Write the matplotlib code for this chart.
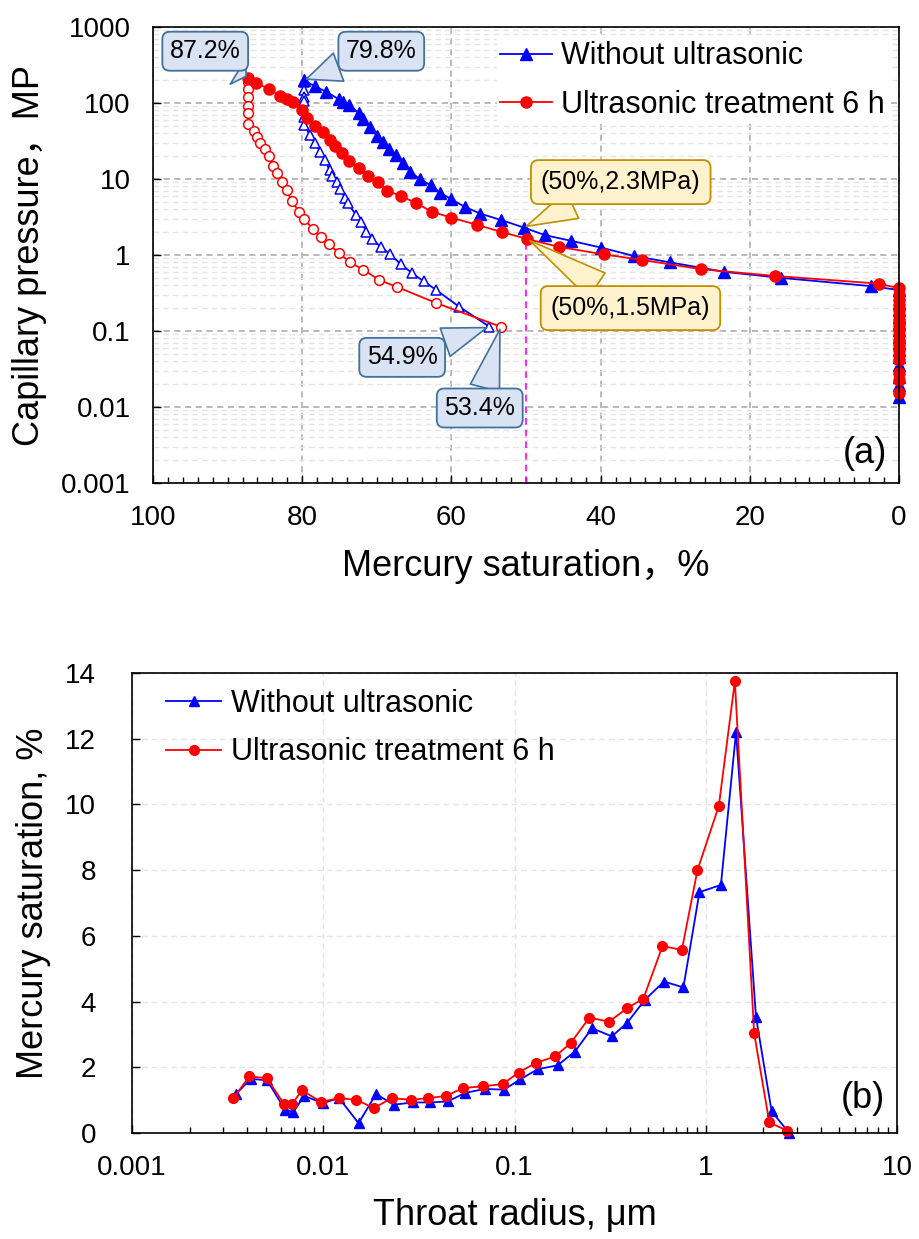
import numpy as np
import matplotlib
matplotlib.use("Agg")
import matplotlib.pyplot as plt
from matplotlib.lines import Line2D
from matplotlib.ticker import FixedLocator, FuncFormatter, LogLocator, NullFormatter, MultipleLocator

plt.rcParams["font.family"] = ["Liberation Sans", "Noto Sans CJK SC", "DejaVu Sans"]

# ---- (a) capillary pressure curves ----
# without ultrasonic, intrusion (filled triangles)
sat_in_raw = [79.8, 78.3, 76.8, 75.1, 74.5, 73.7, 72.4, 71.8, 70.9, 70.0, 69.2, 68.4, 67.4,
              66.5, 65.5, 64.2, 62.8, 61.5, 60.0, 58.2, 56.1, 53.4, 50.3, 47.5, 44.0, 39.9,
              35.5, 30.7, 23.4, 15.8, 3.8,
              0, 0, 0, 0, 0, 0, 0, 0, 0, 0, 0, 0, 0, 0]
pc_in_raw = [200, 166, 141, 112, 104, 94, 73, 61, 49, 37, 31, 25, 20.7,
             16, 12.5, 9.9, 8.3, 6.6, 5.4, 4.3, 3.5, 2.9, 2.3, 1.83, 1.54, 1.25,
             0.97, 0.80, 0.60, 0.50, 0.39,
             0.346, 0.231, 0.189, 0.154, 0.126, 0.103, 0.084, 0.069, 0.056, 0.046,
             0.0357, 0.025, 0.0195, 0.0134]
# ultrasonic 6 h, intrusion (filled circles)
sat_in_us = [87.2, 86.2, 84.5, 83.0, 82.1, 81.3, 80.0, 79.3, 78.3, 77.2, 76.3, 75.6, 74.7,
             73.7, 72.4, 71.2, 69.9, 68.6, 66.8, 64.7, 62.6, 60.0, 56.6, 53.2, 49.8, 45.6,
             39.6, 34.4, 26.5, 16.6, 2.7,
             0, 0, 0, 0, 0, 0, 0, 0, 0, 0, 0, 0, 0, 0, 0, 0, 0, 0]
pc_in_us = [215, 185, 153, 124, 112, 104, 81, 63, 50, 42, 33, 27, 22,
            17, 14, 11, 9.1, 7.0, 6.0, 4.8, 3.7, 3.1, 2.5, 2.0, 1.62, 1.28,
            1.02, 0.86, 0.65, 0.53, 0.42,
            0.365, 0.298, 0.256, 0.22, 0.189, 0.163, 0.14, 0.12, 0.103, 0.0886,
            0.0762, 0.0655, 0.0562, 0.0483, 0.0415, 0.0277, 0.0226, 0.0151]
# withdrawal (open markers)
sat_out_raw = [79.8, 79.8, 79.8, 79.8, 79.7, 79.7, 79.0, 78.3, 77.6, 77.0, 76.3, 76.0, 75.4,
               75.0, 74.2, 73.9, 72.8, 72.1, 71.4, 70.6, 69.5, 68.2, 66.8, 65.3, 63.7, 62.1,
               59.0, 54.9]
pc_out_raw = [190, 148, 121, 105, 66, 51, 38, 30, 23, 18, 13, 10.8, 9.2,
              7.3, 5.6, 4.8, 3.4, 2.75, 2.03, 1.61, 1.29, 1.02, 0.76, 0.58, 0.45, 0.35,
              0.21, 0.114]
sat_out_us = [87.3, 87.3, 87.3, 87.3, 87.3, 87.2, 86.5, 86.1, 85.6, 85.0, 84.5, 83.9, 83.4,
              82.7, 82.1, 81.4, 80.4, 79.7, 78.6, 77.5, 76.4, 75.1, 73.6, 71.8, 69.7, 67.3,
              62.1, 53.4]
pc_out_us = [190, 151, 121, 91, 73, 53, 43, 36, 30, 25, 20, 15, 12,
             9.2, 7.2, 5.1, 3.7, 3.0, 2.18, 1.74, 1.38, 1.07, 0.80, 0.64, 0.47, 0.38,
             0.235, 0.114]

# ---- (b) throat radius distribution ----
r_raw = [0.0035, 0.00419, 0.0051, 0.0063, 0.00698, 0.00794, 0.00994, 0.0121, 0.0153, 0.0189,
         0.0233, 0.0294, 0.0362, 0.0448, 0.0552, 0.0697, 0.0883, 0.107, 0.132, 0.168,
         0.207, 0.254, 0.323, 0.389, 0.48, 0.605, 0.764, 0.927, 1.2, 1.44, 1.83, 2.21, 2.73]
s_raw = [1.19, 1.65, 1.60, 0.71, 0.64, 1.13, 0.91, 1.06, 0.30, 1.19,
         0.86, 0.93, 0.93, 0.96, 1.22, 1.34, 1.32, 1.63, 1.94, 2.06,
         2.48, 3.19, 2.94, 3.36, 4.05, 4.61, 4.43, 7.33, 7.55, 12.2, 3.54, 0.66, 0.0]
r_us = [0.00339, 0.0041, 0.00506, 0.00623, 0.0069, 0.00772, 0.00973, 0.0121, 0.0149, 0.0184,
        0.0228, 0.0288, 0.0355, 0.0439, 0.054, 0.0682, 0.0868, 0.105, 0.129, 0.163,
        0.197, 0.246, 0.313, 0.388, 0.472, 0.594, 0.75, 0.905, 1.17, 1.42, 1.79, 2.15, 2.67]
s_us = [1.06, 1.72, 1.67, 0.89, 0.89, 1.30, 0.95, 1.06, 1.01, 0.76,
        1.06, 1.01, 1.06, 1.13, 1.37, 1.42, 1.49, 1.84, 2.13, 2.33,
        2.74, 3.51, 3.39, 3.80, 4.09, 5.69, 5.57, 8.0, 9.95, 13.75, 3.04, 0.32, 0.07]

labels = ["Without ultrasonic", "Ultrasonic treatment 6 h"]
BLUE, RED = "#0000ff", "#ff0000"
TICK_FS, LABEL_FS, LEG_FS, NOTE_FS = 20, 26, 22, 18

W, H = 919, 1239
fig = plt.figure(figsize=(W / 100, H / 100), dpi=100)
ax1 = fig.add_axes([153 / W, 1 - 483 / H, (899 - 153) / W, (483 - 27) / H])
ax2 = fig.add_axes([132 / W, 1 - 1133 / H, (897 - 132) / W, (1133 - 673) / H])

fmt_g = FuncFormatter(lambda v, p: f"{v:g}")

# ---------- panel (a) ----------
ax1.set_yscale("log")
ax1.set_xlim(100, 0)
ax1.set_ylim(0.001, 1000)
ax1.yaxis.set_major_locator(FixedLocator([0.001, 0.01, 0.1, 1, 10, 100, 1000]))
ax1.yaxis.set_major_formatter(fmt_g)
ax1.yaxis.set_minor_locator(LogLocator(base=10, subs=np.arange(2, 10)))
ax1.yaxis.set_minor_formatter(NullFormatter())
ax1.xaxis.set_major_locator(MultipleLocator(20))
ax1.xaxis.set_minor_locator(MultipleLocator(2))
ax1.xaxis.set_major_formatter(fmt_g)

ax1.grid(which="major", axis="both", ls=(0, (4, 3)), color="#a6a6a6", lw=1.1, zorder=0)
ax1.grid(which="minor", axis="y", ls=(0, (4, 3)), color="#e4e4e4", lw=1.0, zorder=0)

ax1.plot(sat_out_raw, pc_out_raw, color=BLUE, lw=1.3, marker="^", ms=7, mfc="white",
         mec=BLUE, mew=1.1, zorder=3)
ax1.plot(sat_out_us, pc_out_us, color=RED, lw=1.3, marker="o", ms=7, mfc="white",
         mec=RED, mew=1.1, zorder=3)
ax1.plot(sat_in_raw, pc_in_raw, color=BLUE, lw=1.3, marker="^", ms=8, mfc=BLUE, mec=BLUE,
         zorder=4, clip_on=False)
ax1.plot(sat_in_us, pc_in_us, color=RED, lw=1.3, marker="o", ms=8, mfc=RED, mec=RED,
         zorder=4, clip_on=False)

# 50 % guide line
ax1.plot([50, 50], [0.001, pc_in_us[sat_in_us.index(49.8)]], color="#ff00ff",
         ls=(0, (4, 3)), lw=1.2, zorder=2)

blue_box = dict(boxstyle="round,pad=0.3,rounding_size=0.3", fc="#dae3f3", ec="#41719c", lw=1.3)
yel_box = dict(boxstyle="round,pad=0.4,rounding_size=0.3", fc="#fff2cc", ec="#bf9000", lw=1.3)


def callout(ax, text, xy, xytext, box):
    ax.annotate(text, xy=xy, xytext=xytext, textcoords="data", fontsize=NOTE_FS,
                ha="center", va="center", bbox=box, zorder=6,
                arrowprops=dict(arrowstyle="wedge,tail_width=1.2", fc=box["fc"],
                                ec=box["ec"], lw=1.2, shrinkA=0, shrinkB=2))


callout(ax1, "87.2%", (87.2, 215), (93.0, 480), blue_box)
callout(ax1, "79.8%", (79.8, 200), (69.4, 480), blue_box)
callout(ax1, "54.9%", (54.9, 0.114), (66.6, 0.045), blue_box)
callout(ax1, "53.4%", (53.4, 0.114), (56.2, 0.0097), blue_box)
callout(ax1, "(50%,2.3MPa)", (50.3, 2.3), (37.3, 9.1), yel_box)
callout(ax1, "(50%,1.5MPa)", (49.8, 1.62), (36.0, 0.2), yel_box)

ax1.text(0.955, 0.065, "(a)", transform=ax1.transAxes, fontsize=LABEL_FS,
         ha="center", va="center")

ax1.set_xlabel("Mercury saturation，%", fontsize=LABEL_FS, labelpad=13)
ax1.set_ylabel("Capillary pressure，MP", fontsize=LABEL_FS, labelpad=10)

h1 = [Line2D([], [], color=BLUE, lw=1.3, marker="^", ms=8),
      Line2D([], [], color=RED, lw=1.3, marker="o", ms=8)]
leg1 = ax1.legend(h1, labels, loc="upper right", bbox_to_anchor=(0.985, 0.975),
                  fontsize=LEG_FS, frameon=True, facecolor="white", edgecolor="none",
                  framealpha=1, fancybox=False, borderpad=0.1, borderaxespad=0,
                  handlelength=1.7, handletextpad=0.3, labelspacing=0.6)
leg1.set_zorder(5)

# ---------- panel (b) ----------
ax2.set_xscale("log")
ax2.set_xlim(0.001, 10)
ax2.set_ylim(0, 14)
ax2.xaxis.set_major_locator(FixedLocator([0.001, 0.01, 0.1, 1, 10]))
ax2.xaxis.set_major_formatter(fmt_g)
ax2.xaxis.set_minor_locator(LogLocator(base=10, subs=np.arange(2, 10)))
ax2.xaxis.set_minor_formatter(NullFormatter())
ax2.yaxis.set_major_locator(MultipleLocator(2))
ax2.grid(which="major", ls=(0, (4, 3)), color="#e4e4e4", lw=1.0, zorder=0)

ax2.plot(r_raw, s_raw, color=BLUE, lw=1.3, marker="^", ms=6.5, mfc=BLUE, mec=BLUE,
         zorder=3, clip_on=False)
ax2.plot(r_us, s_us, color=RED, lw=1.3, marker="o", ms=7, mfc=RED, mec=RED,
         zorder=4, clip_on=False)

ax2.text(0.955, 0.075, "(b)", transform=ax2.transAxes, fontsize=LABEL_FS,
         ha="center", va="center")
ax2.set_xlabel("Throat radius, μm", fontsize=LABEL_FS, labelpad=12)
ax2.set_ylabel("Mercury saturation, %", fontsize=LABEL_FS, labelpad=10)

h2 = [Line2D([], [], color=BLUE, lw=1.3, marker="^", ms=6.5),
      Line2D([], [], color=RED, lw=1.3, marker="o", ms=7)]
ax2.legend(h2, labels, loc="upper left", bbox_to_anchor=(0.045, 0.965), fontsize=LEG_FS,
           frameon=False, borderpad=0, borderaxespad=0, handlelength=1.8,
           handletextpad=0.3, labelspacing=0.6)

for ax in (ax1, ax2):
    for sp in ax.spines.values():
        sp.set_linewidth(1.2)
        sp.set_zorder(5)
    ax.tick_params(which="both", direction="in", labelsize=TICK_FS, width=1.0)
    ax.tick_params(which="major", length=6)
    ax.tick_params(which="minor", length=4)
    ax.tick_params(axis="x", which="major", pad=16)

ax1.tick_params(axis="y", which="major", pad=16)
ax1.tick_params(axis="y", which="minor", length=0)
ax2.tick_params(axis="y", which="major", pad=26)

fig.savefig("out.png", dpi=100)
